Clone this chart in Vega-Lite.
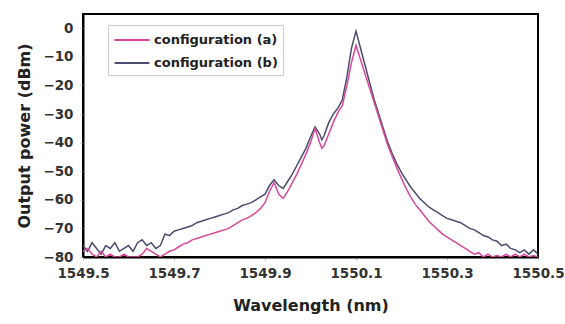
{
  "$schema": "https://vega.github.io/schema/vega-lite/v6.json",
  "width": 455,
  "height": 243,
  "autosize": {"type": "none"},
  "padding": {"left": 83, "top": 14, "right": 27, "bottom": 67},
  "background": "white",
  "config": {
    "view": {"stroke": "black", "strokeWidth": 2},
    "font": "DejaVu Sans",
    "axis": {
      "grid": false,
      "domainColor": "black",
      "domainWidth": 2,
      "tickColor": "#bbb",
      "tickSize": 3,
      "labelFont": "DejaVu Sans",
      "labelFontWeight": "bold",
      "labelFontSize": 13.5,
      "labelColor": "#333",
      "titleFont": "DejaVu Sans",
      "titleFontWeight": "bold",
      "titleFontSize": 16,
      "titleColor": "#222"
    }
  },
  "datasets": {
    "spec": [
      {"wl": 1549.50, "b": -76, "a": -78},
      {"wl": 1549.51, "b": -78, "a": -77},
      {"wl": 1549.52, "b": -75, "a": -79},
      {"wl": 1549.53, "b": -77, "a": -80},
      {"wl": 1549.54, "b": -79, "a": -78},
      {"wl": 1549.55, "b": -76, "a": -80},
      {"wl": 1549.56, "b": -77, "a": -79},
      {"wl": 1549.57, "b": -75, "a": -80},
      {"wl": 1549.58, "b": -78, "a": -80},
      {"wl": 1549.59, "b": -77, "a": -79},
      {"wl": 1549.60, "b": -76, "a": -80},
      {"wl": 1549.61, "b": -78, "a": -80},
      {"wl": 1549.62, "b": -75, "a": -80},
      {"wl": 1549.63, "b": -74, "a": -79},
      {"wl": 1549.64, "b": -76, "a": -77},
      {"wl": 1549.65, "b": -75, "a": -78},
      {"wl": 1549.66, "b": -77, "a": -79},
      {"wl": 1549.67, "b": -76, "a": -80},
      {"wl": 1549.68, "b": -72, "a": -79},
      {"wl": 1549.69, "b": -72.5, "a": -78},
      {"wl": 1549.70, "b": -71, "a": -77.5},
      {"wl": 1549.71, "b": -70.5, "a": -76.5},
      {"wl": 1549.72, "b": -70, "a": -75.5},
      {"wl": 1549.73, "b": -69.5, "a": -75},
      {"wl": 1549.74, "b": -69, "a": -74},
      {"wl": 1549.75, "b": -68, "a": -73.5},
      {"wl": 1549.76, "b": -67.5, "a": -73},
      {"wl": 1549.77, "b": -67, "a": -72.5},
      {"wl": 1549.78, "b": -66.5, "a": -72},
      {"wl": 1549.79, "b": -66, "a": -71.5},
      {"wl": 1549.80, "b": -65.5, "a": -71},
      {"wl": 1549.81, "b": -65, "a": -70.5},
      {"wl": 1549.82, "b": -64.5, "a": -70},
      {"wl": 1549.83, "b": -63.5, "a": -69},
      {"wl": 1549.84, "b": -63, "a": -68},
      {"wl": 1549.85, "b": -62, "a": -67},
      {"wl": 1549.86, "b": -61.5, "a": -66.5},
      {"wl": 1549.87, "b": -61, "a": -65.5},
      {"wl": 1549.88, "b": -60, "a": -64.5},
      {"wl": 1549.89, "b": -59, "a": -63},
      {"wl": 1549.90, "b": -58, "a": -61},
      {"wl": 1549.91, "b": -55, "a": -57},
      {"wl": 1549.92, "b": -53, "a": -54},
      {"wl": 1549.93, "b": -55, "a": -58},
      {"wl": 1549.94, "b": -56, "a": -59.5},
      {"wl": 1549.95, "b": -53.5, "a": -57},
      {"wl": 1549.96, "b": -51, "a": -54},
      {"wl": 1549.97, "b": -48, "a": -51},
      {"wl": 1549.98, "b": -45, "a": -47.5},
      {"wl": 1549.99, "b": -42, "a": -44},
      {"wl": 1550.00, "b": -38, "a": -40},
      {"wl": 1550.01, "b": -34.5, "a": -35},
      {"wl": 1550.02, "b": -37, "a": -40},
      {"wl": 1550.025, "b": -39, "a": -42},
      {"wl": 1550.03, "b": -37.5, "a": -41},
      {"wl": 1550.04, "b": -33, "a": -37},
      {"wl": 1550.05, "b": -30, "a": -33},
      {"wl": 1550.06, "b": -28, "a": -29.5},
      {"wl": 1550.07, "b": -25, "a": -27},
      {"wl": 1550.08, "b": -17, "a": -20},
      {"wl": 1550.09, "b": -7, "a": -12},
      {"wl": 1550.10, "b": -1, "a": -6},
      {"wl": 1550.11, "b": -7, "a": -11},
      {"wl": 1550.12, "b": -13, "a": -16},
      {"wl": 1550.13, "b": -19, "a": -21},
      {"wl": 1550.14, "b": -25, "a": -26},
      {"wl": 1550.15, "b": -30, "a": -31},
      {"wl": 1550.16, "b": -35, "a": -36},
      {"wl": 1550.17, "b": -40, "a": -41},
      {"wl": 1550.18, "b": -44, "a": -45},
      {"wl": 1550.19, "b": -47.5, "a": -49},
      {"wl": 1550.20, "b": -50.5, "a": -52.5},
      {"wl": 1550.21, "b": -53, "a": -56},
      {"wl": 1550.22, "b": -55.5, "a": -59},
      {"wl": 1550.23, "b": -57.5, "a": -61.5},
      {"wl": 1550.24, "b": -59.5, "a": -63.5},
      {"wl": 1550.25, "b": -61, "a": -65.5},
      {"wl": 1550.26, "b": -62.5, "a": -67.5},
      {"wl": 1550.27, "b": -63.5, "a": -69},
      {"wl": 1550.28, "b": -64.5, "a": -70.5},
      {"wl": 1550.29, "b": -65.5, "a": -72},
      {"wl": 1550.30, "b": -66.5, "a": -73},
      {"wl": 1550.31, "b": -67, "a": -74},
      {"wl": 1550.32, "b": -67.5, "a": -75},
      {"wl": 1550.33, "b": -68, "a": -76},
      {"wl": 1550.34, "b": -69, "a": -77},
      {"wl": 1550.35, "b": -70, "a": -78},
      {"wl": 1550.36, "b": -70.5, "a": -79},
      {"wl": 1550.37, "b": -71.5, "a": -78.5},
      {"wl": 1550.38, "b": -72.5, "a": -80},
      {"wl": 1550.39, "b": -73, "a": -79},
      {"wl": 1550.40, "b": -74, "a": -80},
      {"wl": 1550.41, "b": -74.5, "a": -79.5},
      {"wl": 1550.42, "b": -76, "a": -80},
      {"wl": 1550.43, "b": -75.5, "a": -79},
      {"wl": 1550.44, "b": -77, "a": -80},
      {"wl": 1550.45, "b": -77.5, "a": -79},
      {"wl": 1550.46, "b": -78.5, "a": -80},
      {"wl": 1550.47, "b": -77.5, "a": -79},
      {"wl": 1550.48, "b": -79, "a": -80},
      {"wl": 1550.49, "b": -77.5, "a": -79.5},
      {"wl": 1550.50, "b": -79, "a": -80}
    ]
  },
  "data": {"name": "spec"},
  "transform": [
    {"fold": ["b", "a"], "as": ["cfg", "power"]},
    {"calculate": "datum.cfg === 'a' ? 'configuration (a)' : 'configuration (b)'", "as": "series"},
    {"calculate": "datum.cfg === 'a' ? 2 : 1", "as": "ord"}
  ],
  "mark": {"type": "line", "strokeWidth": 1.5, "clip": true},
  "encoding": {
    "x": {
      "field": "wl", "type": "quantitative",
      "scale": {"domain": [1549.5, 1550.5], "nice": false, "zero": false},
      "axis": {
        "values": [1549.5, 1549.7, 1549.9, 1550.1, 1550.3, 1550.5],
        "format": ".1f",
        "labelFlush": false,
        "labelOverlap": false,
        "title": "Wavelength (nm)",
        "labelPadding": 6,
        "titlePadding": 18
      }
    },
    "y": {
      "field": "power", "type": "quantitative",
      "scale": {"domain": [-80, 5], "nice": false, "zero": false},
      "axis": {
        "values": [-80, -70, -60, -50, -40, -30, -20, -10, 0],
        "labelFlush": false,
        "labelOverlap": false,
        "title": "Output power (dBm)",
        "labelPadding": 7,
        "titlePadding": 10
      }
    },
    "color": {
      "field": "series", "type": "nominal",
      "scale": {"domain": ["configuration (a)", "configuration (b)"], "range": ["#d9489a", "#4b4d6e"]},
      "legend": {
        "title": null,
        "orient": "none",
        "legendX": 25,
        "legendY": 11,
        "strokeColor": "#cccccc",
        "padding": 5,
        "symbolType": "M-1.94,0H1.94",
        "symbolSize": 324,
        "symbolOffset": 9,
        "symbolStrokeWidth": 2,
        "labelFont": "DejaVu Sans",
        "labelFontWeight": "bold",
        "labelFontSize": 13,
        "labelColor": "#222",
        "rowPadding": 6,
        "labelOffset": 12
      }
    },
    "order": {"field": "ord", "type": "quantitative"}
  }
}
